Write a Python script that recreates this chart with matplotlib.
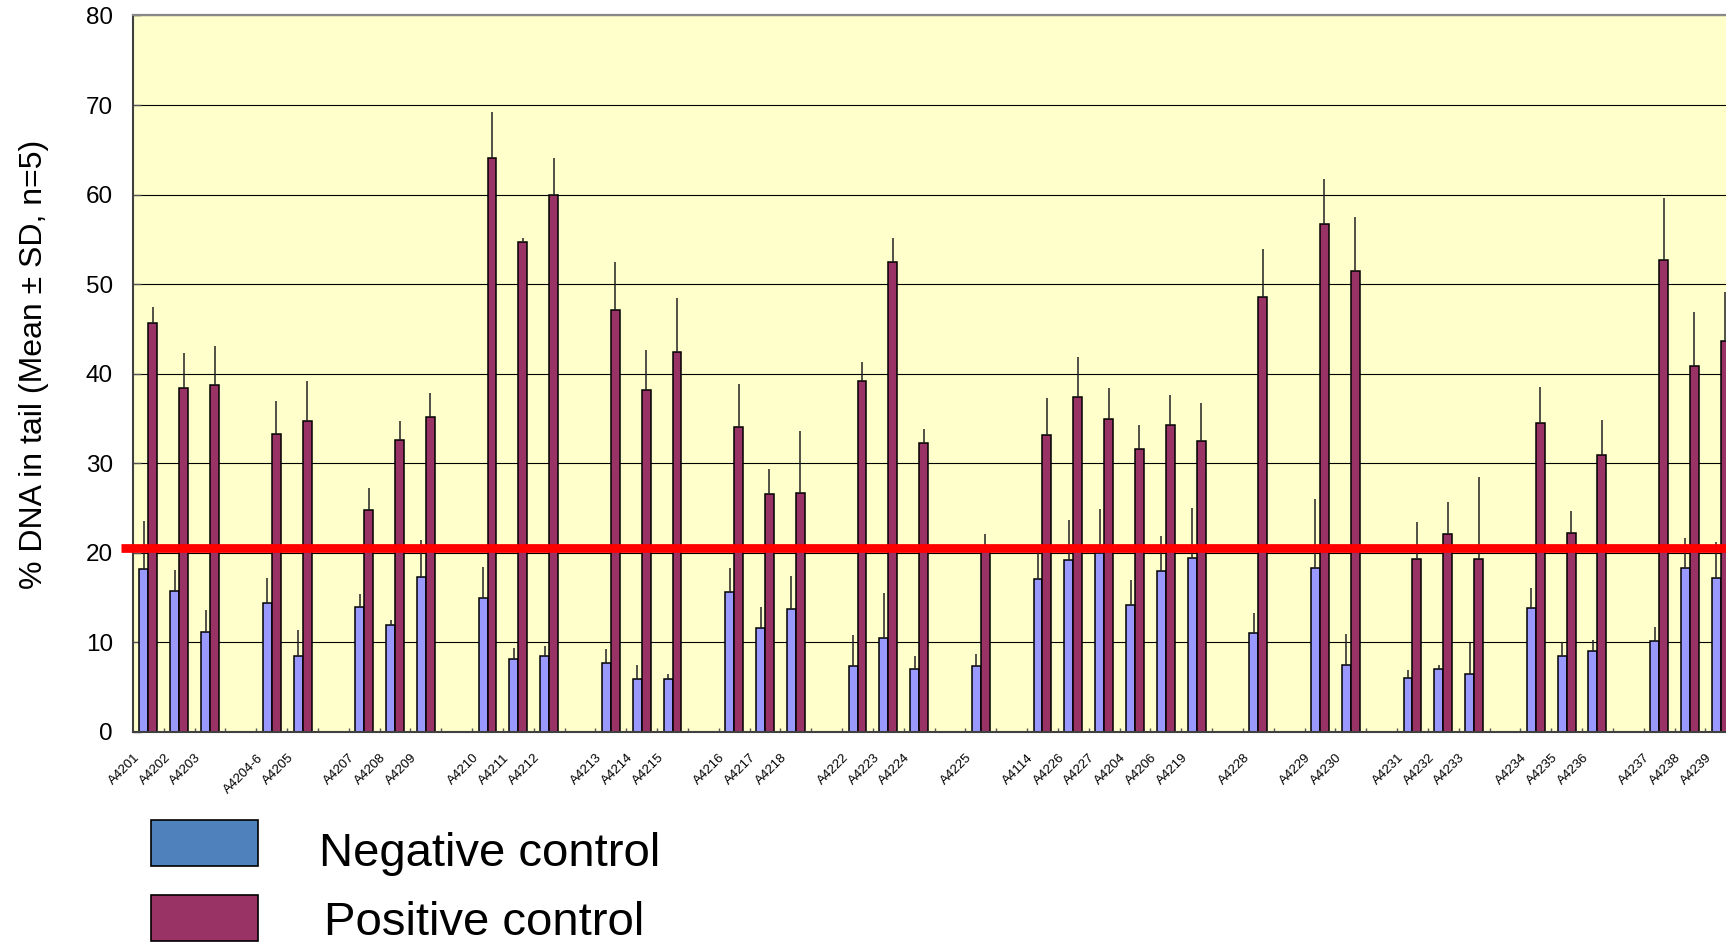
import numpy as np
import matplotlib
matplotlib.use("Agg")
import matplotlib.pyplot as plt
from matplotlib.transforms import ScaledTranslation, blended_transform_factory
from matplotlib.patches import Rectangle

plt.rcParams['font.family'] = ['Liberation Sans', 'DejaVu Sans']

# slot sequence along the x axis ('' = empty slot)
slots = ['A4201', 'A4202', 'A4203', '', 'A4204-6', 'A4205', '', 'A4207', 'A4208', 'A4209', '',
         'A4210', 'A4211', 'A4212', '', 'A4213', 'A4214', 'A4215', '', 'A4216', 'A4217', 'A4218', '',
         'A4222', 'A4223', 'A4224', '', 'A4225', '', 'A4114', 'A4226', 'A4227', 'A4204', 'A4206',
         'A4219', '', 'A4228', '', 'A4229', 'A4230', '', 'A4231', 'A4232', 'A4233', '',
         'A4234', 'A4235', 'A4236', '', 'A4237', 'A4238', 'A4239']

neg_mean = [18.2, 15.7, 11.1, 14.4, 8.5, 13.9, 11.9, 17.3, 14.9, 8.1, 8.4, 7.7, 5.9, 5.9,
            15.6, 11.6, 13.7, 7.3, 10.5, 7.0, 7.3, 17.1, 19.2, 20.0, 14.2, 18.0, 19.4, 11.0,
            18.3, 7.4, 6.0, 7.0, 6.5, 13.8, 8.4, 9.0, 10.1, 18.3, 17.2]
neg_sd = [5.3, 2.4, 2.5, 2.8, 2.9, 1.5, 0.6, 4.1, 3.5, 1.2, 1.2, 1.5, 1.6, 0.6,
          2.7, 2.3, 3.7, 3.5, 5.0, 1.4, 1.4, 3.0, 4.4, 4.9, 2.7, 3.9, 5.6, 2.3,
          7.7, 3.5, 0.9, 0.5, 3.4, 2.3, 1.6, 1.2, 1.6, 3.3, 4.0]
pos_mean = [45.7, 38.4, 38.7, 33.2, 34.7, 24.8, 32.6, 35.1, 64.1, 54.7, 59.9, 47.1, 38.2, 42.4,
            34.0, 26.5, 26.7, 39.2, 52.5, 32.2, 20.3, 33.1, 37.4, 34.9, 31.6, 34.3, 32.5, 48.6,
            56.7, 51.5, 19.3, 22.1, 19.3, 34.5, 22.2, 30.9, 52.7, 40.8, 43.6]
pos_sd = [1.7, 3.9, 4.4, 3.7, 4.5, 2.4, 2.1, 2.7, 5.1, 0.4, 4.2, 5.4, 4.4, 6.1,
          4.8, 2.8, 6.9, 2.1, 2.7, 1.6, 1.8, 4.2, 4.4, 3.5, 2.7, 3.3, 4.2, 5.3,
          5.0, 6.0, 4.1, 3.6, 9.1, 4.0, 2.4, 3.9, 6.9, 6.1, 5.5]

threshold = 20.5
yticks = [0, 10, 20, 30, 40, 50, 60, 70, 80]
ylabel = '% DNA in tail (Mean \u00b1 SD, n=5)'
legend_labels = ['Negative control', 'Positive control']

W, H = 1726, 944
fig = plt.figure(figsize=(W / 100, H / 100), dpi=100)
ax_left, ax_bottom_px, ax_top_px = 133, 731.7, 15.5
slot_px = 30.83
n_slots = len(slots)
ax = fig.add_axes([ax_left / W, (H - ax_bottom_px) / H, n_slots * slot_px / W,
                   (ax_bottom_px - ax_top_px) / H])
ax.set_facecolor('#FFFFCC')

pos = np.array([i for i, s in enumerate(slots) if s])
names = [s for s in slots if s]
bw = 0.29

ax.bar(pos - bw / 2, neg_mean, width=bw, color='#9999FF', edgecolor='black', linewidth=1.1, zorder=2)
ax.bar(pos + bw / 2, pos_mean, width=bw, color='#993366', edgecolor='black', linewidth=1.1, zorder=2)
ax.errorbar(pos - bw / 2, neg_mean, yerr=[np.zeros(len(neg_sd)), neg_sd], fmt='none',
            ecolor='#222222', elinewidth=1.1, capsize=0, zorder=3)
ax.errorbar(pos + bw / 2, pos_mean, yerr=[np.zeros(len(pos_sd)), pos_sd], fmt='none',
            ecolor='#222222', elinewidth=1.1, capsize=0, zorder=3)

ax.set_xlim(-0.5, n_slots - 0.5)
ax.set_ylim(0, 80)
ax.set_yticks(yticks)
ax.yaxis.grid(True, color='black', linewidth=0.8)
ax.set_axisbelow(True)
ax.tick_params(axis='y', direction='in', length=6, width=1, color='#555555',
               labelsize=17.5, pad=14.4)

ax.set_xticks(pos)
ax.set_xticklabels(names, rotation=45, ha='right', va='top', fontsize=9.5)
ax.tick_params(axis='x', which='major', length=0, pad=14.4)
ax.set_xticks(np.arange(0.5, n_slots - 0.5, 1), minor=True)
ax.tick_params(axis='x', which='minor', direction='in', length=3, width=1, color='#555555')
off = ScaledTranslation(-6.5 / 100, 0, fig.dpi_scale_trans)
for lbl in ax.get_xticklabels():
    lbl.set_transform(lbl.get_transform() + off)

for sp in ['left', 'bottom']:
    ax.spines[sp].set_color('#404040')
    ax.spines[sp].set_linewidth(1.5)
ax.spines['top'].set_color('#888888')
ax.spines['top'].set_linewidth(1.6)
ax.spines['right'].set_visible(False)

trans = blended_transform_factory(ax.transAxes, ax.transData)
x0 = (121 - ax_left) / (n_slots * slot_px)
ax.plot([x0, 1.0], [threshold, threshold], transform=trans, color='#FF0000',
        linewidth=6.3, solid_capstyle='butt', clip_on=False, zorder=5)

fig.text(34 / W, 1 - 364 / H, ylabel, rotation=90, ha='center', va='center', fontsize=23)

# legend drawn as boxes and texts
leg_colors = ['#4F81BD', '#993366']
box_tops = [820, 895]
text_x = [319, 324]
baselines = [866, 935]
for c, top, tx, bl, lab in zip(leg_colors, box_tops, text_x, baselines, legend_labels):
    fig.patches.append(Rectangle((151 / W, 1 - (top + 46) / H), 107 / W, 46 / H,
                                 transform=fig.transFigure, facecolor=c,
                                 edgecolor='black', linewidth=1.2))
    fig.text(tx / W, 1 - bl / H, lab, ha='left', va='baseline', fontsize=34)

fig.savefig('out.png', dpi=100)
